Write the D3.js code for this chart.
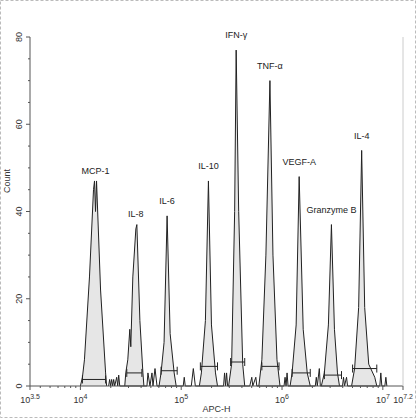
<!DOCTYPE html>
<html><head><meta charset="utf-8">
<script src="https://cdn.jsdelivr.net/npm/d3@7"></script>
<style>body{margin:0;background:#fff}text{font-family:Arial,"Liberation Sans",sans-serif}</style>
</head><body><svg id="c" width="416" height="418"></svg>
<script>
const names=["MCP-1","IL-8","IL-6","IL-10","IFN-γ","TNF-α","VEGF-A","Granzyme B","IL-4"];
// peak outlines: [log10(APC-H), count]
const peaks=[
 [[4.00,0],[4.02,2],[4.04,6],[4.09,25],[4.13,45],[4.14,47],[4.15,40],[4.16,47],[4.20,22],[4.25,3],[4.26,0]],
 [[4.44,0],[4.45,3],[4.47,6],[4.49,13],[4.50,9],[4.52,25],[4.55,36],[4.56,37],[4.59,15],[4.62,3],[4.63,0]],
 [[4.78,0],[4.80,3],[4.83,10],[4.86,39],[4.89,12],[4.93,3],[4.95,0]],
 [[5.18,0],[5.20,3],[5.24,15],[5.27,47],[5.30,14],[5.34,3],[5.36,0]],
 [[5.47,0],[5.50,5],[5.53,40],[5.545,77],[5.57,40],[5.61,5],[5.63,0]],
 [[5.77,0],[5.80,6],[5.84,30],[5.88,70],[5.91,30],[5.95,6],[5.98,0]],
 [[6.08,0],[6.10,3],[6.14,14],[6.17,48],[6.21,13],[6.25,3],[6.28,0]],
 [[6.39,0],[6.42,3],[6.46,14],[6.49,37],[6.52,13],[6.55,3],[6.57,0]],
 [[6.69,0],[6.72,4],[6.76,18],[6.79,54],[6.82,18],[6.86,5],[6.92,2],[6.94,0]]
];
const noise=[[4.28,0],[4.29,1.5],[4.30,0],[4.31,1.5],[4.32,0],[4.33,1.5],[4.34,0],[4.36,2],[4.37,0],[4.38,2.5],[4.39,0],
 [4.66,0],[4.67,3],[4.69,0],[4.71,3],[4.72,0],[4.74,4],[4.76,0],
 [5.02,0],[5.03,2],[5.04,0],[5.10,0],[5.12,4],[5.14,0],[5.42,0],[5.43,3],[5.44,0],[5.45,3],[5.46,0],
 [5.68,0],[5.70,2],[5.71,0],[5.74,2],[5.75,0],[6.02,0],[6.03,2],[6.04,0],[6.05,3],[6.06,0],
 [6.33,0],[6.34,2],[6.35,0],[6.37,4],[6.38,0],[6.60,0],[6.61,2],[6.62,0],[6.64,2],[6.65,0],[6.97,0],[6.98,3],[6.99,0],[7.02,0],[7.03,2],[7.04,0]];
const gates=[[4.02,4.25,1.5],[4.46,4.61,3],[4.80,4.96,3.5],[5.19,5.36,4.5],[5.49,5.63,5.5],[5.80,5.97,4.5],[6.10,6.28,3],[6.42,6.59,2.5],[6.70,6.94,4]];
const labelPos=[[4.15,48],[4.55,38],[4.86,41],[5.27,49],[5.545,79],[5.88,72],[6.17,50],[6.49,39],[6.79,56]];
const xTicks=[3.5,4,5,6,7,7.2];
const yTicks=[0,20,40,60,80];

const svg=d3.select("#c");
svg.append("rect").attr("x",0.5).attr("y",0.5).attr("width",415).attr("height",417).attr("fill","none").attr("stroke","#bbb").attr("stroke-dasharray","3,2");
const x=d3.scaleLinear().domain([3.5,7.2]).range([30,403]);
const y=d3.scaleLinear().domain([0,80]).range([386,37]);
const g=svg.append("g");
const line=d3.line().x(d=>x(d[0])).y(d=>y(d[1]));
const area=d3.area().x(d=>x(d[0])).y0(y(0)).y1(d=>y(d[1]));
peaks.forEach(p=>{
 g.append("path").attr("d",area(p)).attr("fill","#e6e6e6");
 g.append("path").attr("d",line(p)).attr("fill","none").attr("stroke","#222").attr("stroke-width",1);
});
g.append("path").attr("d",line(noise)).attr("fill","none").attr("stroke","#222").attr("stroke-width",1);
gates.forEach(d=>{
 const yy=y(d[2]);
 g.append("line").attr("x1",x(d[0])).attr("x2",x(d[1])).attr("y1",yy).attr("y2",yy).attr("stroke","#222");
 [d[0],d[1]].forEach(v=>g.append("line").attr("x1",x(v)).attr("x2",x(v)).attr("y1",yy-4).attr("y2",yy+4).attr("stroke","#222"));
});
names.forEach((n,i)=>svg.append("text").attr("x",x(labelPos[i][0])).attr("y",y(labelPos[i][1])-3).attr("text-anchor","middle").attr("font-size",9).attr("fill","#222").text(n));
// axes
const ax=svg.append("g").attr("transform","translate(0,386)");
ax.append("line").attr("x1",30).attr("x2",403).attr("stroke","#555");
xTicks.forEach(t=>{
 ax.append("line").attr("x1",x(t)).attr("x2",x(t)).attr("y1",0).attr("y2",4).attr("stroke","#555");
 const tx=ax.append("text").attr("x",x(t)).attr("y",17).attr("text-anchor","middle").attr("font-size",9).attr("fill","#333");
 tx.append("tspan").text("10");
 tx.append("tspan").attr("dy",-4).attr("font-size",7).text(t%1?t.toFixed(1):t);
});
const minor=[];for(let d=3;d<7;d++)for(let k=2;k<10;k++){const v=d+Math.log10(k);if(v>3.5&&v<7.2)minor.push(v);}
minor.forEach(t=>ax.append("line").attr("x1",x(t)).attr("x2",x(t)).attr("y1",0).attr("y2",2).attr("stroke","#555"));
svg.append("text").attr("x",x(5.35)).attr("y",412).attr("text-anchor","middle").attr("font-size",9).attr("fill","#333").text("APC-H");
const ay=svg.append("g");
ay.append("line").attr("x1",30).attr("x2",30).attr("y1",37).attr("y2",386).attr("stroke","#555");
yTicks.forEach(t=>{
 ay.append("line").attr("x1",26).attr("x2",30).attr("y1",y(t)).attr("y2",y(t)).attr("stroke","#555");
 ay.append("text").attr("transform",`translate(22,${y(t)}) rotate(-90)`).attr("text-anchor","middle").attr("font-size",9).attr("fill","#333").text(t);
});
for(let t=5;t<=80;t+=5) if(t%20) ay.append("line").attr("x1",28).attr("x2",30).attr("y1",y(t)).attr("y2",y(t)).attr("stroke","#555");
svg.append("text").attr("transform",`translate(10,${y(47)}) rotate(-90)`).attr("text-anchor","middle").attr("font-size",9).attr("fill","#333").text("Count");
svg.append("line").attr("x1",403).attr("x2",403).attr("y1",37).attr("y2",386).attr("stroke","#ccc");
</script></body></html>
